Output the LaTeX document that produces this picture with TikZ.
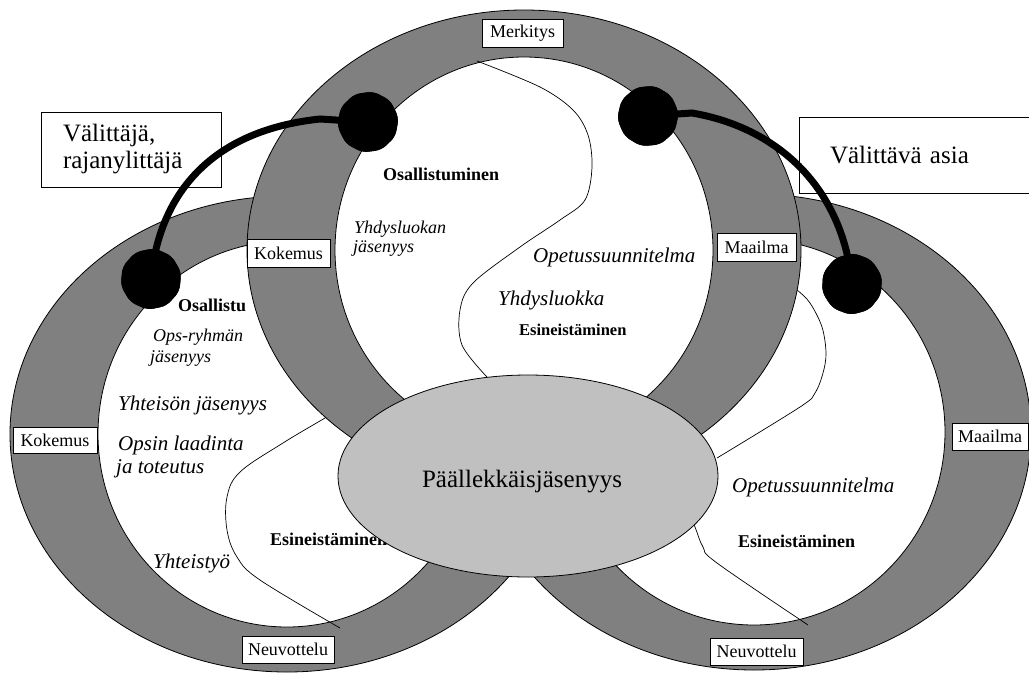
\documentclass[tikz,border=0pt]{standalone}
\usepackage{fontspec}
\setmainfont{Liberation Serif}
\usetikzlibrary{shapes.geometric}
\definecolor{band}{RGB}{128,128,128}
\definecolor{core}{RGB}{192,192,192}
\begin{document}
\begin{tikzpicture}[x=1pt,y=-1pt,
  ringline/.style={draw=black, line width=0.8pt},
  tag/.style={draw=black, fill=white, line width=0.8pt, inner sep=0pt, font=\fontsize{18}{20}\selectfont},
  bigbox/.style={draw=black, fill=white, line width=0.8pt, inner ysep=0pt, font=\fontsize{25}{27}\selectfont},
  blob/.style={regular polygon, regular polygon sides=10, fill=black, minimum size=62pt, inner sep=0pt, rounded corners=6pt},
  bridge/.style={line width=7pt, line cap=round},
  wave/.style={line width=0.7pt},
  boldlbl/.style={anchor=base west, inner sep=0pt, font=\fontsize{18}{20}\selectfont\bfseries},
  itsmall/.style={anchor=base west, inner sep=0pt, font=\fontsize{18}{20}\selectfont\itshape},
  itlarge/.style={anchor=base west, inner sep=0pt, font=\fontsize{21}{23}\selectfont\itshape},
]
\clip (0,0) rectangle (1029,673);
\fill[white] (0,0) rectangle (1029,673);

% left community ring
\filldraw[fill=band, ringline] (287,434) ellipse [x radius=277pt, y radius=238pt];
\filldraw[fill=white, ringline] (287,434) ellipse [x radius=189pt, y radius=193pt];
\draw[wave] plot[smooth, tension=0.6] coordinates {(345,406) (325,418) (283,443) (240,472) (227,497) (227,530) (237,557) (260,580) (340,628)};

% right community ring
\filldraw[fill=band, ringline] (754,432) ellipse [x radius=277pt, y radius=238pt];
\filldraw[fill=white, ringline] (754,432) ellipse [x radius=191pt, y radius=193pt];
\draw[wave] plot[smooth, tension=0.55] coordinates {(785,283) (797,290) (810,303) (822,327) (826,353) (823,373) (815,393) (800,407) (717,458)};
\draw[wave] plot[smooth, tension=0.6] coordinates {(688,512) (695,527) (703,547) (717,563) (808,625)};

% top community ring
\filldraw[fill=band, ringline] (524,250) ellipse [x radius=277pt, y radius=240pt];
\filldraw[fill=white, ringline] (524,250) ellipse [x radius=189pt, y radius=193pt];
\draw[wave] plot[smooth, tension=0.55] coordinates {(477,61) (540,87) (573,110) (588,135) (592,167) (585,200) (560,220) (520,247) (473,283) (460,310) (462,345) (487,377)};

% labels of the top ring
\node[boldlbl] (osa1) at (383,180) {Osallistuminen};
\node[itsmall] (yhd1) at (354,233) {Yhdysluokan};
\node[itsmall] (yhd2) at (353,252) {jäsenyys};
\node[itlarge] (ops1) at (533,262) {Opetussuunnitelma};
\node[itlarge] (yhd3) at (498,305) {Yhdysluokka};
\node[boldlbl, font=\fontsize{16.5}{18}\selectfont\bfseries] (esi1) at (519,335) {Esineistäminen};

% labels of the left ring
\node[boldlbl] (osa2) at (178,311) {Osallistu};
\node[itsmall] (opr1) at (153,341) {Ops-ryhmän};
\node[itsmall] (opr2) at (150,362) {jäsenyys};
\node[itlarge] (yht1) at (118,410) {Yhteisön jäsenyys};
\node[itlarge] (lad1) at (118,450) {Opsin laadinta};
\node[itlarge] (lad2) at (116,473) {ja toteutus};
\node[itlarge] (yty) at (153,568) {Yhteistyö};
\node[boldlbl] (esi2) at (270,545) {Esineistäminen};

% labels of the right ring
\node[itlarge] (ops2) at (732,492) {Opetussuunnitelma};
\node[boldlbl] (esi3) at (738,547) {Esineistäminen};

% shared membership in the middle
\filldraw[fill=core, ringline] (528,476) ellipse [x radius=190pt, y radius=101pt];
\node[anchor=base, inner sep=0pt, font=\fontsize{25}{27}\selectfont] (pal) at (522,487) {Päällekkäisjäsenyys};

% boxed labels on the rings
\node[tag, minimum width=81pt, minimum height=28pt] (merk) at (522.5,33) {Merkitys};
\node[tag, minimum width=83pt, minimum height=28pt] (kok1) at (288.5,253) {Kokemus};
\node[tag, minimum width=79pt, minimum height=28pt] (maa1) at (756.5,247) {Maailma};
\node[tag, minimum width=84pt, minimum height=26pt] (kok2) at (55,440) {Kokemus};
\node[tag, minimum width=92pt, minimum height=27pt] (neu1) at (288,649.5) {Neuvottelu};
\node[tag, minimum width=93pt, minimum height=27pt] (neu2) at (756.5,651.5) {Neuvottelu};
\node[tag, minimum width=76pt, minimum height=27pt] (maa2) at (990,436.5) {Maailma};

% boxes for broker and boundary object
\node[bigbox, minimum width=180pt, minimum height=75pt, text width=136pt, inner xsep=22pt, align=left] (vt1) at (131,149.5) {Välittäjä,\\rajanylittäjä};
\node[bigbox, minimum width=236pt, minimum height=76pt, text width=174pt, inner xsep=31pt, align=left] (vt2) at (917,155) {Välittävä asia};

% brokering links and their end points
\coordinate (k1) at (320,119);
\coordinate (k2) at (692,113);
\node[blob, rotate=8] (b1) at (368,122) {};
\node[blob, rotate=12] (b2) at (151,279) {};
\node[blob, rotate=5] (b3) at (648,116) {};
\node[blob, rotate=15] (b4) at (852,284) {};
\draw[bridge] (b1.center) -- (k1) .. controls (215,130) and (160,190) .. (b2.center);
\draw[bridge] (b3.center) -- (k2) .. controls (780,128) and (843,190) .. (b4.center);
\node[blob, rotate=8] at (b1) {};
\node[blob, rotate=12] at (b2) {};
\node[blob, rotate=5] at (b3) {};
\node[blob, rotate=15] at (b4) {};
\end{tikzpicture}
\end{document}
